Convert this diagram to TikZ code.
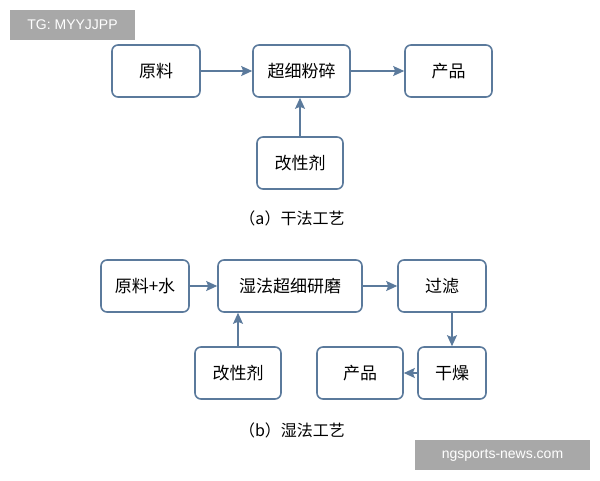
\documentclass[tikz,border=0pt]{standalone}
\usepackage{fontspec}
\setmainfont{Liberation Sans}
\newfontfamily\cjk{Noto Sans CJK SC}
\usetikzlibrary{arrows.meta}
\definecolor{bd}{HTML}{5B7A9C}
\definecolor{wm}{HTML}{A8A8A8}
\begin{document}
\begin{tikzpicture}[x=1pt,y=-1pt,
  box/.style={draw=bd,line width=1.6pt,rounded corners=6pt,fill=white,font=\cjk\fontsize{17}{19}\selectfont,inner sep=0pt},
  arr/.style={-{Stealth[length=11pt,width=10pt,inset=2pt]},draw=bd,line width=1.3pt},
  captxt/.style={font=\cjk\fontsize{16}{18}\selectfont},
  wmk/.style={fill=wm,text=white,font=\fontsize{14}{16}\selectfont,inner sep=0pt}]
\useasboundingbox (0,0) rectangle (600,480);
\node[wmk,minimum width=125,minimum height=30] (w1) at (72.5,25) {TG: MYYJJPP};
\node[box,minimum width=88,minimum height=52] (a1) at (156,71) {原料};
\node[box,minimum width=97,minimum height=52] (a2) at (301.5,71) {超细粉碎};
\node[box,minimum width=87,minimum height=52] (a3) at (448.5,71) {产品};
\node[box,minimum width=86,minimum height=52] (a4) at (300,163) {改性剂};
\draw[arr] (a1) -- (a2);
\draw[arr] (a2) -- (a3);
\draw[arr] (a4) -- (a4.north|-a2.south);
\node[captxt] (ca) at (292,218) {（a）干法工艺};
\node[box,minimum width=88,minimum height=52] (b1) at (145,286) {原料+水};
\node[box,minimum width=144,minimum height=52] (b2) at (290,286) {湿法超细研磨};
\node[box,minimum width=88,minimum height=52] (b3) at (442,286) {过滤};
\node[box,minimum width=86,minimum height=52] (b4) at (238,373) {改性剂};
\node[box,minimum width=86,minimum height=52] (b5) at (360,373) {产品};
\node[box,minimum width=68,minimum height=52] (b6) at (452,373) {干燥};
\draw[arr] (b1) -- (b2);
\draw[arr] (b2) -- (b3);
\draw[arr] (b4) -- (b4.north|-b2.south);
\draw[arr] (b3.south-|b6) -- (b6);
\draw[arr] (b6) -- (b5);
\node[captxt] (cb) at (292,430) {（b）湿法工艺};
\node[wmk,minimum width=175,minimum height=30] (w2) at (502.5,455) {ngsports-news.com};
\end{tikzpicture}
\end{document}
